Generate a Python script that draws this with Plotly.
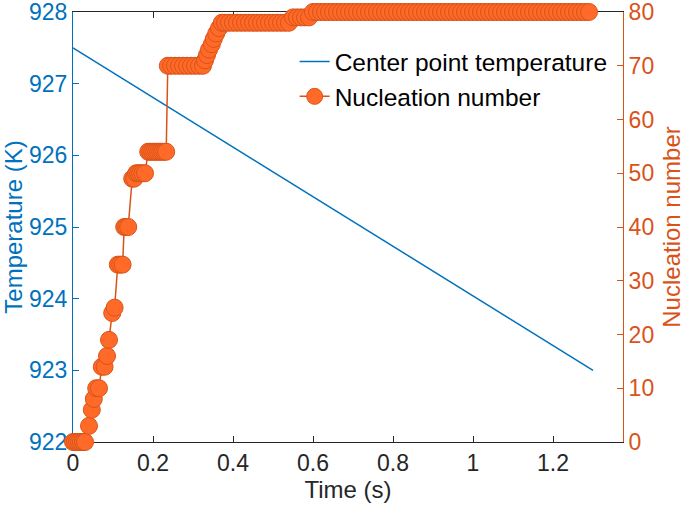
import plotly.graph_objects as go

# ---- Temperature (left axis) ----
time_temp = [0.0, 1.3]
temperature = [927.5, 923.0]

# ---- Nucleation number (right axis) ----
time_nuc = [
    0.000, 0.005, 0.010, 0.015, 0.020, 0.025, 0.030,
    0.040, 0.047, 0.052, 0.058, 0.065, 0.072, 0.079, 0.085, 0.090,
    0.098, 0.104, 0.112, 0.118, 0.124, 0.128, 0.133, 0.138,
    0.148, 0.153, 0.158, 0.163, 0.168, 0.174, 0.180,
    0.188, 0.193, 0.198, 0.203, 0.208, 0.213, 0.218, 0.223, 0.228, 0.233,
    0.237, 0.245, 0.255, 0.265, 0.275, 0.285, 0.295, 0.305, 0.315, 0.325,
    0.330, 0.335, 0.340, 0.347, 0.352, 0.358, 0.365,
    0.372, 0.380, 0.390, 0.400, 0.410, 0.420, 0.430, 0.440, 0.450,
    0.460, 0.470, 0.480, 0.490, 0.500, 0.510, 0.520, 0.530, 0.540,
    0.550, 0.560, 0.570, 0.580, 0.590,
    0.60, 0.61, 0.62, 0.63, 0.64, 0.65, 0.66, 0.67,
    0.68, 0.69, 0.70, 0.71, 0.72, 0.73, 0.74, 0.75, 0.76, 0.77,
    0.78, 0.79, 0.80, 0.81, 0.82, 0.83, 0.84, 0.85, 0.86, 0.87,
    0.88, 0.89, 0.90, 0.91, 0.92, 0.93, 0.94, 0.95, 0.96, 0.97,
    0.98, 0.99, 1.00, 1.01, 1.02, 1.03, 1.04, 1.05, 1.06, 1.07,
    1.08, 1.09, 1.10, 1.11, 1.12, 1.13, 1.14, 1.15, 1.16, 1.17,
    1.18, 1.19, 1.20, 1.21, 1.22, 1.23, 1.24, 1.25, 1.26, 1.27,
    1.28, 1.29,
]
nucleation = [
    0, 0, 0, 0, 0, 0, 0,
    3, 6, 8, 10, 10, 14, 14, 16, 19,
    24, 25, 33, 33, 33, 40, 40, 40,
    49, 49, 50, 50, 50, 50, 50,
    54, 54, 54, 54, 54, 54, 54, 54, 54, 54,
    70, 70, 70, 70, 70, 70, 70, 70, 70, 70,
    71, 72, 73, 74, 75, 76, 77,
    78, 78, 78, 78, 78, 78, 78, 78, 78,
    78, 78, 78, 78, 78, 78, 78, 78, 78,
    79, 79, 79, 79, 79,
    80, 80, 80, 80, 80, 80, 80, 80,
    80, 80, 80, 80, 80, 80, 80, 80, 80, 80,
    80, 80, 80, 80, 80, 80, 80, 80, 80, 80,
    80, 80, 80, 80, 80, 80, 80, 80, 80, 80,
    80, 80, 80, 80, 80, 80, 80, 80, 80, 80,
    80, 80, 80, 80, 80, 80, 80, 80, 80, 80,
    80, 80, 80, 80, 80, 80, 80, 80, 80, 80,
    80, 80,
]
assert len(time_nuc) == len(nucleation)

x_ticks = [0, 0.2, 0.4, 0.6, 0.8, 1.0, 1.2]
x_ticktext = ["0", "0.2", "0.4", "0.6", "0.8", "1", "1.2"]

BLUE = "#0072BD"
ORANGE = "#D95319"
MARKER_FILL = "#FF6A28"
DARK = "#262626"
FONT = "Liberation Sans, Arial, sans-serif"
FS = 23
FS_TITLE = 24
FS_LEG = 24.5

fig = go.Figure()
fig.add_trace(go.Scatter(
    x=time_temp, y=temperature, mode="lines", name="Center point temperature",
    line=dict(color=BLUE, width=1.5), yaxis="y",
))
fig.add_trace(go.Scatter(
    x=time_nuc, y=nucleation, mode="lines+markers", name="Nucleation number",
    line=dict(color=ORANGE, width=1.5),
    marker=dict(size=17, color=MARKER_FILL, line=dict(color=ORANGE, width=1)),
    yaxis="y2", cliponaxis=False,
))

fig.update_layout(
    width=685, height=505,
    margin=dict(l=73, r=62, t=12, b=63, autoexpand=False),
    paper_bgcolor="white", plot_bgcolor="white",
    font=dict(family=FONT, size=FS, color=DARK),
    showlegend=True,
    legend=dict(
        x=0.403, y=0.937, xanchor="left", yanchor="top",
        bgcolor="rgba(0,0,0,0)", borderwidth=0,
        font=dict(family=FONT, size=FS_LEG, color="black"),
    ),
    xaxis=dict(
        range=[0, 1.375], tickvals=x_ticks, ticktext=x_ticktext,
        ticks="inside", ticklen=6, tickcolor=DARK,
        showline=True, linecolor=DARK, linewidth=1, mirror="ticks",
        showgrid=False, zeroline=False, layer="below traces",
        tickfont=dict(family=FONT, size=FS, color=DARK),
        ticklabeloverflow="allow", automargin=False,
        title=dict(text="Time (s)", font=dict(family=FONT, size=FS_TITLE, color=DARK), standoff=2),
    ),
    yaxis=dict(
        range=[922, 928], dtick=1, tick0=922,
        ticks="inside", ticklen=6, tickcolor=BLUE,
        showline=True, linecolor=BLUE, linewidth=1,
        showgrid=False, zeroline=False, layer="below traces",
        tickfont=dict(family=FONT, size=FS, color=BLUE),
        ticklabeloverflow="allow", automargin=False,
        title=dict(text="Temperature (K)", font=dict(family=FONT, size=FS_TITLE, color=BLUE), standoff=2),
    ),
    yaxis2=dict(
        range=[0, 80], dtick=10, tick0=0,
        overlaying="y", side="right", anchor="x",
        ticks="inside", ticklen=6, tickcolor=ORANGE,
        showline=True, linecolor=ORANGE, linewidth=1,
        showgrid=False, zeroline=False, layer="below traces",
        tickfont=dict(family=FONT, size=FS, color=ORANGE),
        ticklabeloverflow="allow", automargin=False,
        title=dict(text="Nucleation number", font=dict(family=FONT, size=FS_TITLE, color=ORANGE), standoff=20),
    ),
)

fig.write_html(
    "out.html",
    config={"displayModeBar": False},
    post_script="document.body.style.margin='0';document.body.style.overflow='hidden';",
)
